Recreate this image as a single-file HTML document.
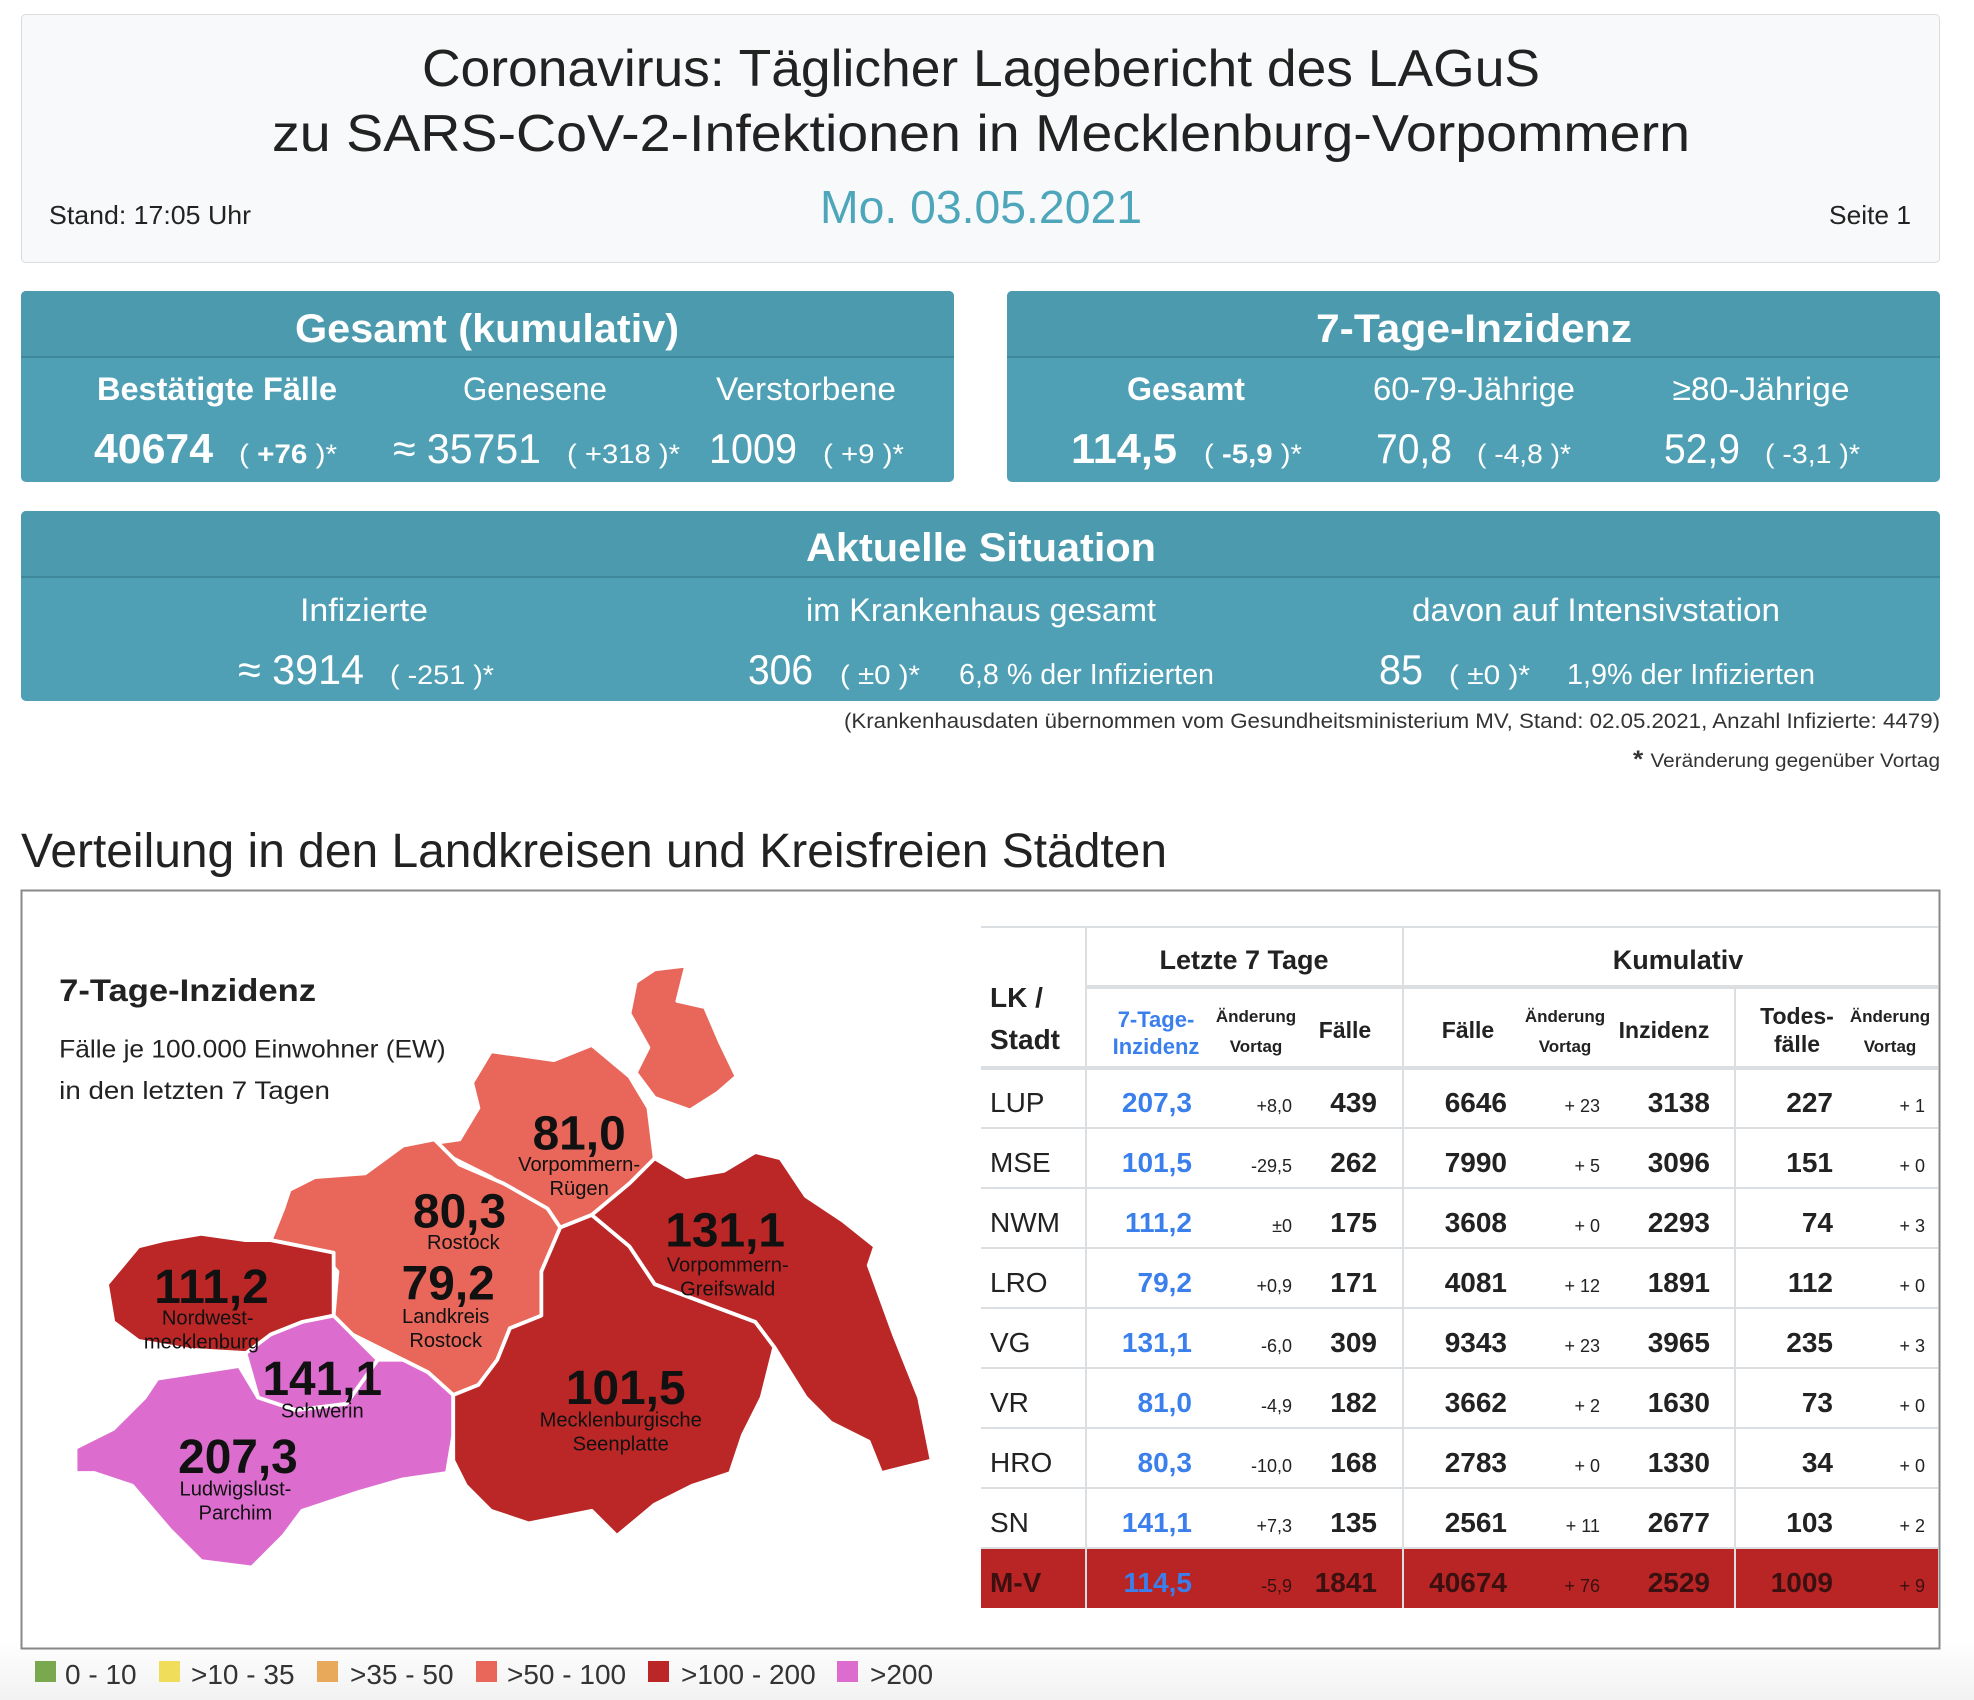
<!DOCTYPE html>
<html><head><meta charset="utf-8"><style>html,body{margin:0;padding:0;background:#fff}svg{display:block}text{font-family:"Liberation Sans",sans-serif}</style></head><body>
<svg width="1974" height="1700" viewBox="0 0 1974 1700" xmlns="http://www.w3.org/2000/svg">
<defs><linearGradient id="bg" x1="0" y1="0" x2="0" y2="1"><stop offset="0" stop-color="#fff"/><stop offset="1" stop-color="#f2f2f2"/></linearGradient></defs>
<rect x="0" y="1640" width="1974" height="60" fill="url(#bg)"/>
<!-- header -->
<rect x="21.5" y="14.5" width="1918" height="248" rx="4" fill="#f8f9fa" stroke="#dcdcdc"/>
<g fill="#222">
<text x="981" y="86" font-size="52" text-anchor="middle" textLength="1118" lengthAdjust="spacingAndGlyphs">Coronavirus: Täglicher Lagebericht des LAGuS</text>
<text x="981" y="151" font-size="52" text-anchor="middle" textLength="1418" lengthAdjust="spacingAndGlyphs">zu SARS-CoV-2-Infektionen in Mecklenburg-Vorpommern</text>
<text x="49" y="224" font-size="26" textLength="202" lengthAdjust="spacingAndGlyphs">Stand: 17:05 Uhr</text>
<text x="1911" y="224" font-size="26" text-anchor="end" textLength="82" lengthAdjust="spacingAndGlyphs">Seite 1</text>
</g>
<text x="981" y="223" font-size="46" fill="#4da6ba" text-anchor="middle" textLength="322" lengthAdjust="spacingAndGlyphs">Mo. 03.05.2021</text>
<!-- panels -->
<g>
<rect x="21" y="291" width="933" height="191" rx="5" fill="#50a0b5"/>
<path d="M21 296 a5 5 0 0 1 5 -5 h923 a5 5 0 0 1 5 5 v61 h-933z" fill="#4b9aae"/>
<rect x="21" y="356" width="933" height="2" fill="#3f889b"/>
<rect x="1007" y="291" width="933" height="191" rx="5" fill="#50a0b5"/>
<path d="M1007 296 a5 5 0 0 1 5 -5 h923 a5 5 0 0 1 5 5 v61 h-933z" fill="#4b9aae"/>
<rect x="1007" y="356" width="933" height="2" fill="#3f889b"/>
<rect x="21" y="511" width="1919" height="190" rx="5" fill="#50a0b5"/>
<path d="M21 516 a5 5 0 0 1 5 -5 h1909 a5 5 0 0 1 5 5 v61 h-1919z" fill="#4b9aae"/>
<rect x="21" y="576" width="1919" height="2" fill="#3f889b"/>
</g>
<g fill="#fff">
<text x="487" y="342" font-size="40" font-weight="bold" text-anchor="middle" textLength="384" lengthAdjust="spacingAndGlyphs">Gesamt (kumulativ)</text>
<text x="217" y="400" font-size="32" font-weight="bold" text-anchor="middle" textLength="240" lengthAdjust="spacingAndGlyphs">Bestätigte Fälle</text>
<text x="535" y="400" font-size="32" text-anchor="middle" textLength="144" lengthAdjust="spacingAndGlyphs">Genesene</text>
<text x="806" y="400" font-size="32" text-anchor="middle" textLength="180" lengthAdjust="spacingAndGlyphs">Verstorbene</text>
<text x="94" y="463" font-size="42" font-weight="bold" textLength="119" lengthAdjust="spacingAndGlyphs">40674</text>
<text x="239" y="463" font-size="27" textLength="98" lengthAdjust="spacingAndGlyphs">( <tspan font-weight="bold">+76</tspan> )*</text>
<text x="393" y="463" font-size="42" textLength="148" lengthAdjust="spacingAndGlyphs">≈ 35751</text>
<text x="567" y="463" font-size="27" textLength="113" lengthAdjust="spacingAndGlyphs">( +318 )*</text>
<text x="709" y="463" font-size="42" textLength="88" lengthAdjust="spacingAndGlyphs">1009</text>
<text x="823" y="463" font-size="27" textLength="81" lengthAdjust="spacingAndGlyphs">( +9 )*</text>

<text x="1474" y="342" font-size="40" font-weight="bold" text-anchor="middle" textLength="316" lengthAdjust="spacingAndGlyphs">7-Tage-Inzidenz</text>
<text x="1186" y="400" font-size="32" font-weight="bold" text-anchor="middle" textLength="118" lengthAdjust="spacingAndGlyphs">Gesamt</text>
<text x="1474" y="400" font-size="32" text-anchor="middle" textLength="202" lengthAdjust="spacingAndGlyphs">60-79-Jährige</text>
<text x="1761" y="400" font-size="32" text-anchor="middle" textLength="177" lengthAdjust="spacingAndGlyphs">≥80-Jährige</text>
<text x="1071" y="463" font-size="42" font-weight="bold" textLength="106" lengthAdjust="spacingAndGlyphs">114,5</text>
<text x="1204" y="463" font-size="27" textLength="98" lengthAdjust="spacingAndGlyphs">( <tspan font-weight="bold">-5,9</tspan> )*</text>
<text x="1376" y="463" font-size="42" textLength="76" lengthAdjust="spacingAndGlyphs">70,8</text>
<text x="1477" y="463" font-size="27" textLength="94" lengthAdjust="spacingAndGlyphs">( -4,8 )*</text>
<text x="1664" y="463" font-size="42" textLength="76" lengthAdjust="spacingAndGlyphs">52,9</text>
<text x="1765" y="463" font-size="27" textLength="95" lengthAdjust="spacingAndGlyphs">( -3,1 )*</text>

<text x="981" y="561" font-size="40" font-weight="bold" text-anchor="middle" textLength="350" lengthAdjust="spacingAndGlyphs">Aktuelle Situation</text>
<text x="364" y="621" font-size="32" text-anchor="middle" textLength="128" lengthAdjust="spacingAndGlyphs">Infizierte</text>
<text x="981" y="621" font-size="32" text-anchor="middle" textLength="350" lengthAdjust="spacingAndGlyphs">im Krankenhaus gesamt</text>
<text x="1596" y="621" font-size="32" text-anchor="middle" textLength="368" lengthAdjust="spacingAndGlyphs">davon auf Intensivstation</text>
<text x="238" y="684" font-size="42" textLength="126" lengthAdjust="spacingAndGlyphs">≈ 3914</text>
<text x="390" y="684" font-size="27" textLength="104" lengthAdjust="spacingAndGlyphs">( -251 )*</text>
<text x="748" y="684" font-size="42" textLength="65" lengthAdjust="spacingAndGlyphs">306</text>
<text x="840" y="684" font-size="27" textLength="80" lengthAdjust="spacingAndGlyphs">( ±0 )*</text>
<text x="959" y="684" font-size="29" textLength="255" lengthAdjust="spacingAndGlyphs">6,8 % der Infizierten</text>
<text x="1379" y="684" font-size="42" textLength="44" lengthAdjust="spacingAndGlyphs">85</text>
<text x="1449" y="684" font-size="27" textLength="81" lengthAdjust="spacingAndGlyphs">( ±0 )*</text>
<text x="1567" y="684" font-size="29" textLength="248" lengthAdjust="spacingAndGlyphs">1,9% der Infizierten</text>
</g>
<g fill="#333">
<text x="1940" y="728" font-size="21" text-anchor="end" textLength="1096" lengthAdjust="spacingAndGlyphs">(Krankenhausdaten übernommen vom Gesundheitsministerium MV, Stand: 02.05.2021, Anzahl Infizierte: 4479)</text>
<text x="1940" y="767" font-size="19" text-anchor="end" textLength="307" lengthAdjust="spacingAndGlyphs"><tspan font-weight="bold" font-size="24">* </tspan>Veränderung gegenüber Vortag</text>
</g>
<text x="21" y="867" font-size="48" fill="#222" textLength="1146" lengthAdjust="spacingAndGlyphs">Verteilung in den Landkreisen und Kreisfreien Städten</text>
<rect x="21.5" y="890.5" width="1918" height="758" fill="#fff" stroke="#888" stroke-width="2"/>

<!-- map (display coords scaled) -->
<g transform="scale(1.259)">
<text x="47" y="795" font-size="25" font-weight="bold" fill="#222" textLength="204" lengthAdjust="spacingAndGlyphs">7-Tage-Inzidenz</text>
<text x="47" y="840" font-size="20" fill="#222" textLength="307" lengthAdjust="spacingAndGlyphs">Fälle je 100.000 Einwohner (EW)</text>
<text x="47" y="873" font-size="20" fill="#222" textLength="215" lengthAdjust="spacingAndGlyphs">in den letzten 7 Tagen</text>
<g stroke="#fff" stroke-width="3" stroke-linejoin="round">
<polygon fill="#e8675a" points="505,780 520,770 545,767 538,795 560,800 572,828 585,855 570,868 548,882 520,872 505,852 515,832 500,805"/>
<polygon fill="#e8675a" points="330,910 365,905 380,880 375,860 390,835 440,842 470,830 500,855 515,880 520,920 500,940 470,965 445,975 420,955 390,935 360,920"/>
<polygon fill="#e8675a" points="230,945 250,935 290,932 320,910 345,905 365,925 400,940 435,960 445,975 430,1010 430,1045 405,1055 395,1080 380,1100 360,1108 340,1090 320,1080 280,1060 265,1045 268,1010 255,995 240,990 215,985 225,960"/>
<polygon fill="#bb2626" points="85,1020 110,990 130,985 160,980 195,985 215,985 240,990 265,995 265,1045 240,1050 215,1060 200,1075 150,1072 110,1065 90,1050"/>
<polygon fill="#dc6dcf" points="60,1150 90,1135 115,1110 125,1095 190,1085 205,1110 235,1120 275,1115 300,1080 320,1080 340,1090 360,1108 360,1140 355,1170 320,1175 285,1185 240,1200 225,1220 200,1245 160,1240 135,1215 105,1180 75,1170 60,1170"/>
<polygon fill="#dc6dcf" points="195,1075 215,1060 240,1050 265,1045 280,1060 300,1080 275,1115 235,1120 205,1110"/>
<polygon fill="#bb2626" points="360,1108 380,1100 395,1080 405,1055 430,1045 430,1010 445,975 470,965 500,990 520,1020 560,1035 600,1050 615,1070 605,1110 590,1140 580,1170 550,1180 520,1195 490,1220 470,1200 420,1210 390,1200 370,1180 360,1160"/>
<polygon fill="#bb2626" points="470,965 500,940 520,920 545,935 575,930 600,915 620,920 640,950 670,970 695,990 690,1005 710,1060 730,1110 740,1160 720,1165 700,1170 690,1145 660,1130 640,1110 615,1070 600,1050 560,1035 520,1020 500,990"/>
</g>
<g fill="#111" text-anchor="middle" font-family="Liberation Sans,sans-serif">
<text x="460" y="913" font-size="38" font-weight="bold">81,0</text>
<text x="460" y="930" font-size="16">Vorpommern-</text><text x="460" y="949" font-size="16">Rügen</text>
<text x="365" y="975" font-size="38" font-weight="bold">80,3</text>
<text x="368" y="992" font-size="16">Rostock</text>
<text x="356" y="1032" font-size="38" font-weight="bold">79,2</text>
<text x="354" y="1051" font-size="16">Landkreis</text><text x="354" y="1070" font-size="16">Rostock</text>
<text x="168" y="1035" font-size="38" font-weight="bold">111,2</text>
<text x="165" y="1052" font-size="16">Nordwest-</text><text x="160" y="1071" font-size="16">mecklenburg</text>
<text x="256" y="1108" font-size="38" font-weight="bold">141,1</text>
<text x="256" y="1126" font-size="16">Schwerin</text>
<text x="189" y="1170" font-size="38" font-weight="bold">207,3</text>
<text x="187" y="1188" font-size="16">Ludwigslust-</text><text x="187" y="1207" font-size="16">Parchim</text>
<text x="497" y="1115" font-size="38" font-weight="bold">101,5</text>
<text x="493" y="1133" font-size="16">Mecklenburgische</text><text x="493" y="1152" font-size="16">Seenplatte</text>
<text x="576" y="990" font-size="38" font-weight="bold">131,1</text>
<text x="578" y="1010" font-size="16">Vorpommern-</text><text x="578" y="1029" font-size="16">Greifswald</text>
</g>
</g>

<!-- legend -->
<g font-size="28" fill="#333">
<rect x="35" y="1661" width="21" height="21" fill="#7aa84f"/><text x="65" y="1684">0 - 10</text>
<rect x="159" y="1661" width="21" height="21" fill="#f0de5a"/><text x="191" y="1684">&gt;10 - 35</text>
<rect x="317" y="1661" width="21" height="21" fill="#e8a95a"/><text x="350" y="1684">&gt;35 - 50</text>
<rect x="476" y="1661" width="21" height="21" fill="#e8675a"/><text x="507" y="1684">&gt;50 - 100</text>
<rect x="648" y="1661" width="21" height="21" fill="#bb2626"/><text x="681" y="1684">&gt;100 - 200</text>
<rect x="837" y="1661" width="21" height="21" fill="#dc6dcf"/><text x="870" y="1684">&gt;200</text>
</g>

<!-- table -->
<rect x="981" y="1548" width="957" height="60" fill="#b92525"/>
<g stroke="#dcdfe2" stroke-width="2">
<line x1="981" y1="927" x2="1938" y2="927"/>
<line x1="1086" y1="987" x2="1938" y2="987" stroke-width="4"/>
<line x1="981" y1="1068" x2="1938" y2="1068" stroke-width="4"/>
<line x1="981" y1="1128" x2="1938" y2="1128"/>
<line x1="981" y1="1188" x2="1938" y2="1188"/>
<line x1="981" y1="1248" x2="1938" y2="1248"/>
<line x1="981" y1="1308" x2="1938" y2="1308"/>
<line x1="981" y1="1368" x2="1938" y2="1368"/>
<line x1="981" y1="1428" x2="1938" y2="1428"/>
<line x1="981" y1="1488" x2="1938" y2="1488"/>
<line x1="981" y1="1548" x2="1938" y2="1548"/>
<line x1="1086" y1="927" x2="1086" y2="1608"/>
<line x1="1403" y1="927" x2="1403" y2="1608"/>
<line x1="1735" y1="987" x2="1735" y2="1608"/>
</g>
<g fill="#222" font-weight="bold">
<text x="1244" y="969" font-size="27" text-anchor="middle">Letzte 7 Tage</text>
<text x="1678" y="969" font-size="27" text-anchor="middle">Kumulativ</text>
<text x="990" y="1007" font-size="28">LK /</text>
<text x="990" y="1049" font-size="28">Stadt</text>
<text x="1156" y="1027" font-size="22" fill="#3a7fec" text-anchor="middle">7-Tage-</text>
<text x="1156" y="1054" font-size="22" fill="#3a7fec" text-anchor="middle">Inzidenz</text>
<g font-size="17" text-anchor="middle">
<text x="1256" y="1022">Änderung</text><text x="1256" y="1052">Vortag</text>
<text x="1565" y="1022">Änderung</text><text x="1565" y="1052">Vortag</text>
<text x="1890" y="1022">Änderung</text><text x="1890" y="1052">Vortag</text>
</g>
<g font-size="23" text-anchor="middle">
<text x="1345" y="1038">Fälle</text><text x="1468" y="1038">Fälle</text><text x="1664" y="1038">Inzidenz</text>
<text x="1797" y="1024">Todes-</text><text x="1797" y="1052">fälle</text>
</g>
</g>
<g font-size="28" fill="#222">
<g font-weight="normal">
<text x="990" y="1112">LUP</text><text x="990" y="1172">MSE</text><text x="990" y="1232">NWM</text><text x="990" y="1292">LRO</text>
<text x="990" y="1352">VG</text><text x="990" y="1412">VR</text><text x="990" y="1472">HRO</text><text x="990" y="1532">SN</text>
</g>
<text x="990" y="1592" font-weight="bold" fill="#3a1010">M-V</text>
<g font-weight="bold" fill="#3a7fec" text-anchor="end">
<text x="1192" y="1112">207,3</text><text x="1192" y="1172">101,5</text><text x="1192" y="1232">111,2</text><text x="1192" y="1292">79,2</text>
<text x="1192" y="1352">131,1</text><text x="1192" y="1412">81,0</text><text x="1192" y="1472">80,3</text><text x="1192" y="1532">141,1</text><text x="1192" y="1592">114,5</text>
</g>
<g font-size="18" text-anchor="end">
<text x="1292" y="1112">+8,0</text><text x="1292" y="1172">-29,5</text><text x="1292" y="1232">±0</text><text x="1292" y="1292">+0,9</text>
<text x="1292" y="1352">-6,0</text><text x="1292" y="1412">-4,9</text><text x="1292" y="1472">-10,0</text><text x="1292" y="1532">+7,3</text><text x="1292" y="1592" fill="#3a1010">-5,9</text>
<text x="1600" y="1112">+ 23</text><text x="1600" y="1172">+ 5</text><text x="1600" y="1232">+ 0</text><text x="1600" y="1292">+ 12</text>
<text x="1600" y="1352">+ 23</text><text x="1600" y="1412">+ 2</text><text x="1600" y="1472">+ 0</text><text x="1600" y="1532">+ 11</text><text x="1600" y="1592" fill="#3a1010">+ 76</text>
<text x="1925" y="1112">+ 1</text><text x="1925" y="1172">+ 0</text><text x="1925" y="1232">+ 3</text><text x="1925" y="1292">+ 0</text>
<text x="1925" y="1352">+ 3</text><text x="1925" y="1412">+ 0</text><text x="1925" y="1472">+ 0</text><text x="1925" y="1532">+ 2</text><text x="1925" y="1592" fill="#3a1010">+ 9</text>
</g>
<g font-weight="bold" text-anchor="end">
<text x="1377" y="1112">439</text><text x="1377" y="1172">262</text><text x="1377" y="1232">175</text><text x="1377" y="1292">171</text>
<text x="1377" y="1352">309</text><text x="1377" y="1412">182</text><text x="1377" y="1472">168</text><text x="1377" y="1532">135</text>
<text x="1507" y="1112">6646</text><text x="1507" y="1172">7990</text><text x="1507" y="1232">3608</text><text x="1507" y="1292">4081</text>
<text x="1507" y="1352">9343</text><text x="1507" y="1412">3662</text><text x="1507" y="1472">2783</text><text x="1507" y="1532">2561</text>
<text x="1710" y="1112">3138</text><text x="1710" y="1172">3096</text><text x="1710" y="1232">2293</text><text x="1710" y="1292">1891</text>
<text x="1710" y="1352">3965</text><text x="1710" y="1412">1630</text><text x="1710" y="1472">1330</text><text x="1710" y="1532">2677</text>
<text x="1833" y="1112">227</text><text x="1833" y="1172">151</text><text x="1833" y="1232">74</text><text x="1833" y="1292">112</text>
<text x="1833" y="1352">235</text><text x="1833" y="1412">73</text><text x="1833" y="1472">34</text><text x="1833" y="1532">103</text>
<g fill="#3a1010"><text x="1377" y="1592">1841</text><text x="1507" y="1592">40674</text><text x="1710" y="1592">2529</text><text x="1833" y="1592">1009</text></g>
</g>
</g>
</svg>
</body></html>
